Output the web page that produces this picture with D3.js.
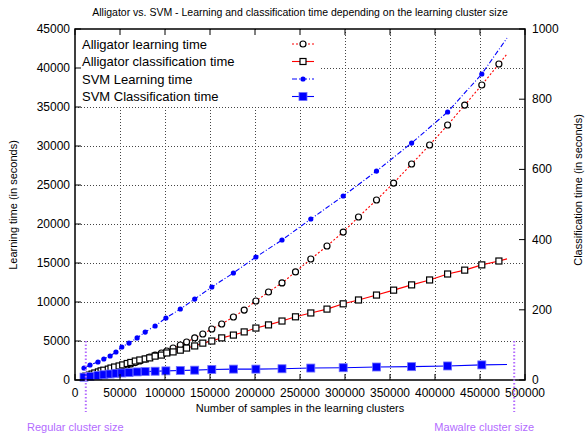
<!DOCTYPE html>
<html>
<head>
<meta charset="utf-8">
<script src="https://cdn.jsdelivr.net/npm/d3@7"></script>
<style>
  body { margin: 0; background: #fff; }
  svg { font-family: "Liberation Sans", Arial, sans-serif; }
</style>
</head>
<body>
<div id="chart"></div>
<script>
// samples per learning cluster (x axis)
const alligatorSamples = [10000, 12000, 16000, 19000, 22000, 26000, 29000, 32000, 37000, 40000,
  44000, 49000, 53000, 58000, 62000, 67000, 72000, 78000, 83000, 89000,
  96000, 102000, 109000, 117000, 124000, 133000, 142000, 152000, 163000, 176000,
  188000, 201000, 215000, 230000, 245000, 262000, 280000, 298000, 315000, 335000,
  354000, 374000, 394000, 414000, 433000, 452000, 471000, 480000];
const alligatorLearning = [320, 385, 510, 580, 700, 830, 960, 1090, 1220, 1350,
  1480, 1670, 1800, 1920, 2050, 2240, 2440, 2690, 2950, 3200,
  3460, 3720, 4100, 4490, 4870, 5390, 5900, 6540, 7180, 8080,
  8970, 10130, 11280, 12440, 13850, 15510, 17180, 18970, 20900, 23080,
  25250, 27690, 30130, 32690, 35250, 37820, 40510, 41800];
const alligatorClassif = [9, 11, 14, 17, 20, 23, 26, 28, 31, 34,
  37, 40, 43, 47, 50, 54, 57, 60, 63, 68,
  71, 77, 80, 85, 91, 97, 105, 111, 120, 128,
  137, 148, 157, 168, 180, 191, 202, 217, 228, 242,
  256, 271, 285, 302, 313, 328, 339, 345];

const svmSamples = [10000, 16700, 25500, 32000, 39000, 45500, 52000, 60000, 69000, 78000,
  89000, 101000, 117000, 133000, 152000, 176000, 201000, 230000, 262000, 298000,
  335000, 374000, 414000, 452000, 480000];
const svmLearning = [1540, 1920, 2310, 2690, 3080, 3590, 4230, 4740, 5390, 6150,
  6920, 7950, 9100, 10380, 11920, 13720, 15770, 17950, 20640, 23590,
  26790, 30380, 34360, 39230, 43850];
const svmClassif = [8, 10, 13, 15, 17, 19, 20, 21, 23, 24,
  25, 26, 27, 28, 30, 31, 31, 32, 34, 35,
  37, 38, 40, 43, 44];

const xTicks = d3.range(0, 500001, 50000);
const yTicks = d3.range(0, 45001, 5000);
const y2Ticks = d3.range(0, 1001, 200);
const clusterMarks = [
  {label: 'Regular cluster size', samples: 12000},
  {label: 'Mawalre cluster size', samples: 488000}
];

const width = 585, height = 436;
const margin = {top: 29, right: 60, bottom: 56, left: 75};
const plotL = margin.left, plotR = width - margin.right, plotT = margin.top, plotB = height - margin.bottom;

const x = d3.scaleLinear().domain([0, 500000]).range([plotL, plotR]);
const y = d3.scaleLinear().domain([0, 45000]).range([plotB, plotT]);
const y2 = d3.scaleLinear().domain([0, 1000]).range([plotB, plotT]);

const purple = '#b36bff';

const svg = d3.select('#chart').append('svg')
  .attr('width', width).attr('height', height);

// title
svg.append('text')
  .attr('x', 300).attr('y', 16)
  .attr('text-anchor', 'middle')
  .attr('font-size', 10.5)
  .text('Alligator vs. SVM - Learning and classification time depending on the learning cluster size');

// grid
const grid = svg.append('g').attr('stroke', '#444').attr('stroke-dasharray', '1,2').attr('stroke-width', 1);
grid.selectAll('.gx').data(xTicks.slice(1, -1)).enter().append('line')
  .attr('x1', d => x(d) + 0.5).attr('x2', d => x(d) + 0.5)
  .attr('y1', plotT).attr('y2', plotB);
grid.selectAll('.gy').data(yTicks.slice(1, -1)).enter().append('line')
  .attr('x1', plotL).attr('x2', plotR)
  .attr('y1', d => Math.round(y(d)) + 0.5).attr('y2', d => Math.round(y(d)) + 0.5);

// series
const series = [
  {name: 'Alligator learning time', xs: alligatorSamples, ys: alligatorLearning, scale: y,
    color: 'red', dash: '2,2', marker: 'circle'},
  {name: 'Alligator classification time', xs: alligatorSamples, ys: alligatorClassif, scale: y2,
    color: 'red', dash: null, marker: 'square'},
  {name: 'SVM Learning time', xs: svmSamples, ys: svmLearning, scale: y,
    color: 'blue', dash: '5,2,1,2', marker: 'dot'},
  {name: 'SVM Classification time', xs: svmSamples, ys: svmClassif, scale: y2,
    color: 'blue', dash: null, marker: 'bigsquare'}
];

function drawMarker(g, type, cx, cy) {
  if (type === 'circle') {
    g.append('circle').attr('cx', cx).attr('cy', cy).attr('r', 3)
      .attr('fill', '#fff').attr('stroke', '#000').attr('stroke-width', 1.2);
  } else if (type === 'square') {
    g.append('rect').attr('x', cx - 3).attr('y', cy - 3).attr('width', 6).attr('height', 6)
      .attr('fill', '#fff').attr('stroke', '#000').attr('stroke-width', 1.2);
  } else if (type === 'dot') {
    g.append('circle').attr('cx', cx).attr('cy', cy).attr('r', 2.6).attr('fill', 'blue');
  } else {
    g.append('rect').attr('x', cx - 4).attr('y', cy - 4).attr('width', 8).attr('height', 8)
      .attr('fill', 'blue').attr('stroke', '#6f6fff').attr('stroke-width', 0.8);
  }
}

series.forEach(s => {
  const pts = s.xs.map((v, i) => [v, s.ys[i]]);
  const line = d3.line().x(d => x(d[0])).y(d => s.scale(d[1]));
  svg.append('path')
    .datum(pts)
    .attr('d', line)
    .attr('fill', 'none')
    .attr('stroke', s.color)
    .attr('stroke-width', 1.1)
    .attr('stroke-dasharray', s.dash);
});
series.forEach(s => {
  const g = svg.append('g');
  // last sample has no marker, only the line reaches it
  s.xs.slice(0, -1).forEach((v, i) => drawMarker(g, s.marker, x(v), s.scale(s.ys[i])));
});

// legend (opaque box hides the grid)
svg.append('rect').attr('x', plotL + 1).attr('y', plotT + 1).attr('width', 243).attr('height', 76).attr('fill', '#fff');
const legend = svg.append('g');
series.forEach((s, i) => {
  const ly = 44 + i * 17.5;
  legend.append('text').attr('x', 82).attr('y', ly + 4.5).attr('font-size', 13).text(s.name);
  legend.append('line').attr('x1', 292).attr('x2', 314).attr('y1', ly).attr('y2', ly)
    .attr('stroke', s.color).attr('stroke-width', 1.1).attr('stroke-dasharray', s.dash);
  drawMarker(legend, s.marker, 303, ly);
});

// border
svg.append('rect')
  .attr('x', plotL).attr('y', plotT).attr('width', plotR - plotL).attr('height', plotB - plotT)
  .attr('fill', 'none').attr('stroke', '#000').attr('stroke-width', 1.5);

// ticks
const ticks = svg.append('g').attr('stroke', '#000').attr('stroke-width', 1);
ticks.selectAll('.tb').data(xTicks).enter().append('line')
  .attr('x1', d => x(d)).attr('x2', d => x(d)).attr('y1', plotB).attr('y2', plotB - 6);
ticks.selectAll('.tt').data(xTicks).enter().append('line')
  .attr('x1', d => x(d)).attr('x2', d => x(d)).attr('y1', plotT).attr('y2', plotT + 6);
ticks.selectAll('.tl').data(yTicks).enter().append('line')
  .attr('x1', plotL).attr('x2', plotL + 6).attr('y1', d => y(d)).attr('y2', d => y(d));
ticks.selectAll('.tr').data(y2Ticks).enter().append('line')
  .attr('x1', plotR).attr('x2', plotR - 6).attr('y1', d => y2(d)).attr('y2', d => y2(d));

// tick labels
const labels = svg.append('g').attr('font-size', 12).attr('fill', '#000');
labels.selectAll('.lx').data(xTicks).enter().append('text')
  .attr('x', d => x(d)).attr('y', 397).attr('text-anchor', 'middle').text(d => d);
labels.selectAll('.ly').data(yTicks).enter().append('text')
  .attr('x', plotL - 5).attr('y', d => y(d) + 4).attr('text-anchor', 'end').text(d => d);
labels.selectAll('.ly2').data(y2Ticks).enter().append('text')
  .attr('x', plotR + 7).attr('y', d => y2(d) + 4).attr('text-anchor', 'start').text(d => d);

// axis titles
svg.append('text').attr('x', 300).attr('y', 412).attr('text-anchor', 'middle').attr('font-size', 11)
  .text('Number of samples in the learning clusters');
svg.append('text').attr('transform', 'translate(17,205) rotate(-90)').attr('text-anchor', 'middle')
  .attr('font-size', 11).text('Learning time (in seconds)');
svg.append('text').attr('transform', 'translate(582,190) rotate(-90)').attr('text-anchor', 'middle')
  .attr('font-size', 11).text('Classification time (in seconds)');

// cluster size markers
clusterMarks.forEach((m, i) => {
  svg.append('line')
    .attr('x1', x(m.samples)).attr('x2', x(m.samples))
    .attr('y1', y(5000)).attr('y2', 412)
    .attr('stroke', purple).attr('stroke-width', 2).attr('stroke-dasharray', '1.5,2');
  svg.append('text')
    .attr('x', i === 0 ? 27 : 534).attr('y', 431)
    .attr('text-anchor', i === 0 ? 'start' : 'end')
    .attr('font-size', 11).attr('fill', purple)
    .text(m.label);
});
</script>
</body>
</html>
